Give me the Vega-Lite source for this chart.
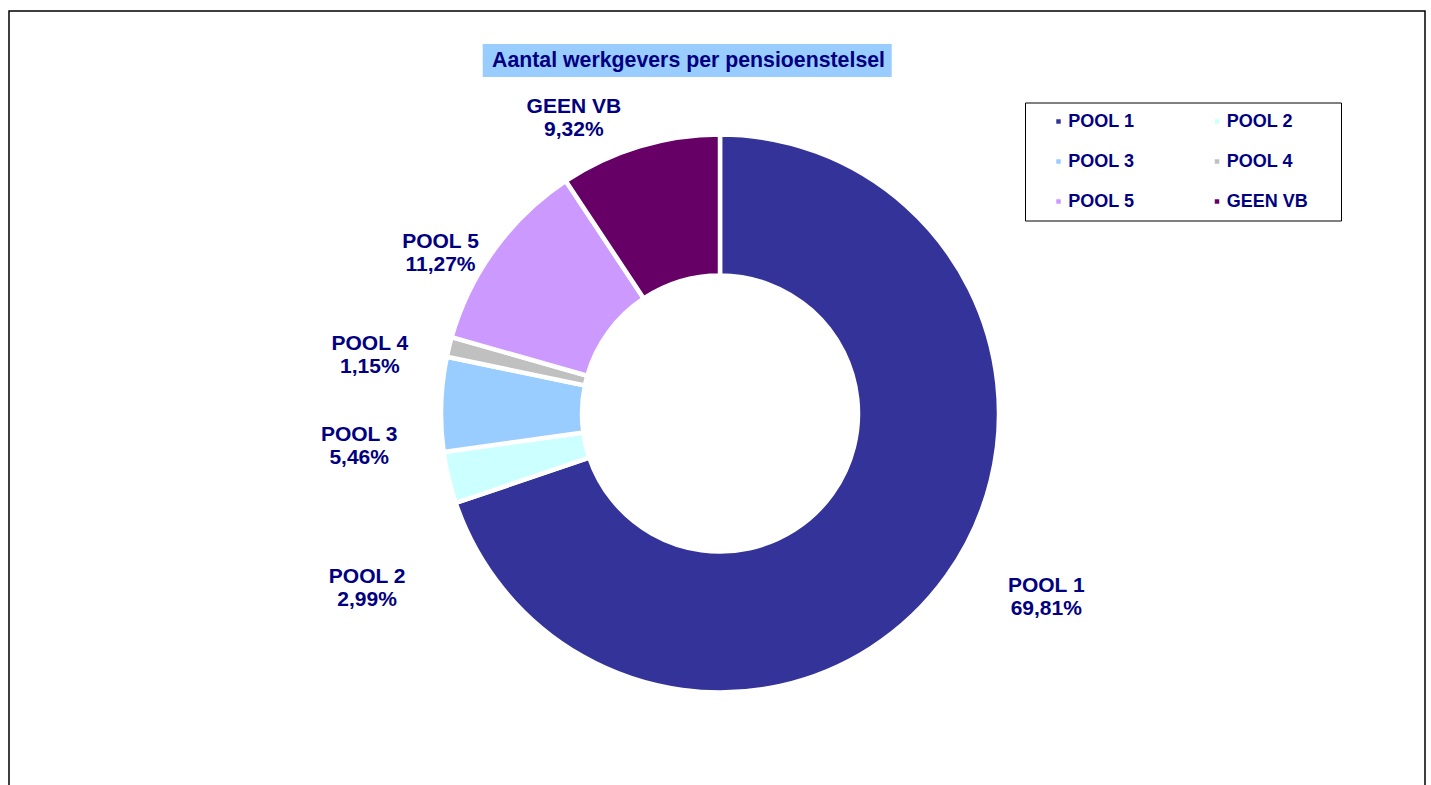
{
  "$schema": "https://vega.github.io/schema/vega-lite/v6.json",
  "width": 1416,
  "height": 778,
  "autosize": "none",
  "padding": {"left": 9, "top": 11, "right": 6, "bottom": -4},
  "background": "white",
  "view": {"stroke": "#000000", "strokeWidth": 1.5, "fill": "white"},
  "config": {
    "view": {"stroke": "#000000", "strokeWidth": 1.5},
    "font": "Liberation Sans"
  },
  "data": {
    "values": [
      {"nr": 1, "pool": "POOL 1", "pct": 69.81},
      {"nr": 2, "pool": "POOL 2", "pct": 2.99},
      {"nr": 3, "pool": "POOL 3", "pct": 5.46},
      {"nr": 4, "pool": "POOL 4", "pct": 1.15},
      {"nr": 5, "pool": "POOL 5", "pct": 11.27},
      {"nr": 6, "pool": "GEEN VB", "pct": 9.32}
    ]
  },
  "layer": [
    {
      "mark": {"type": "arc", "outerRadius": 279, "innerRadius": 138, "stroke": "white", "strokeWidth": 4.5, "x": {"expr": "width/2+3"}, "y": {"expr": "height/2+13.5"}},
      "encoding": {
        "theta": {"field": "pct", "type": "quantitative", "stack": true},
        "order": {"field": "nr", "type": "quantitative"},
        "color": {
          "field": "pool", "type": "nominal",
          "scale": {"domain": ["POOL 1", "POOL 2", "POOL 3", "POOL 4", "POOL 5", "GEEN VB"], "range": ["#333399", "#CCFFFF", "#99CCFF", "#C0C0C0", "#CC99FF", "#660066"]},
          "legend": {
            "orient": "none", "legendX": 1016, "legendY": 91.5,
            "columns": 2, "direction": "horizontal",
            "title": "\u2003", "titleOrient": "right", "titleFontSize": 14, "titlePadding": 23,
            "fillColor": "white", "strokeColor": "#000000",
            "padding": 10, "rowPadding": 22, "columnPadding": 58.5,
            "symbolType": "square", "symbolSize": 20, "symbolStrokeWidth": 0, "symbolOffset": 14.5,
            "labelOffset": 0.8, "labelFont": "Liberation Sans", "labelFontSize": 18, "labelFontWeight": "bold", "labelColor": "#000080", "labelLimit": 0
          }
        }
      }
    },
    {
      "transform": [{"calculate": "datum.pool + '\\n' + replace(format(datum.pct, '.2f'), '.', ',') + '%'", "as": "lbl"}],
      "mark": {"type": "text", "radius": 340, "x": {"expr": "width/2+3"}, "y": {"expr": "height/2+13.5"}, "dx": 50, "dy": -26, "lineBreak": "\n", "lineHeight": 23, "align": "center", "baseline": "middle", "font": "Liberation Sans", "fontSize": 21, "fontWeight": "bold", "color": "#000080"},
      "encoding": {
        "theta": {"field": "pct", "type": "quantitative", "stack": true},
        "order": {"field": "nr", "type": "quantitative"},
        "detail": {"field": "pool"},
        "text": {"field": "lbl"},
        "opacity": {"condition": {"test": "datum.pool === 'POOL 1'", "value": 1}, "value": 0}
      }
    },
    {
      "transform": [{"calculate": "datum.pool + '\\n' + replace(format(datum.pct, '.2f'), '.', ',') + '%'", "as": "lbl"}],
      "mark": {"type": "text", "radius": 340, "x": {"expr": "width/2+3"}, "y": {"expr": "height/2+13.5"}, "dx": -22, "dy": 85, "lineBreak": "\n", "lineHeight": 23, "align": "center", "baseline": "middle", "font": "Liberation Sans", "fontSize": 21, "fontWeight": "bold", "color": "#000080"},
      "encoding": {
        "theta": {"field": "pct", "type": "quantitative", "stack": true},
        "order": {"field": "nr", "type": "quantitative"},
        "detail": {"field": "pool"},
        "text": {"field": "lbl"},
        "opacity": {"condition": {"test": "datum.pool === 'POOL 2'", "value": 1}, "value": 0}
      }
    },
    {
      "transform": [{"calculate": "datum.pool + '\\n' + replace(format(datum.pct, '.2f'), '.', ',') + '%'", "as": "lbl"}],
      "mark": {"type": "text", "radius": 340, "x": {"expr": "width/2+3"}, "y": {"expr": "height/2+13.5"}, "dx": -21, "dy": 33, "lineBreak": "\n", "lineHeight": 23, "align": "center", "baseline": "middle", "font": "Liberation Sans", "fontSize": 21, "fontWeight": "bold", "color": "#000080"},
      "encoding": {
        "theta": {"field": "pct", "type": "quantitative", "stack": true},
        "order": {"field": "nr", "type": "quantitative"},
        "detail": {"field": "pool"},
        "text": {"field": "lbl"},
        "opacity": {"condition": {"test": "datum.pool === 'POOL 3'", "value": 1}, "value": 0}
      }
    },
    {
      "transform": [{"calculate": "datum.pool + '\\n' + replace(format(datum.pct, '.2f'), '.', ',') + '%'", "as": "lbl"}],
      "mark": {"type": "text", "radius": 340, "x": {"expr": "width/2+3"}, "y": {"expr": "height/2+13.5"}, "dx": -20, "dy": 12, "lineBreak": "\n", "lineHeight": 23, "align": "center", "baseline": "middle", "font": "Liberation Sans", "fontSize": 21, "fontWeight": "bold", "color": "#000080"},
      "encoding": {
        "theta": {"field": "pct", "type": "quantitative", "stack": true},
        "order": {"field": "nr", "type": "quantitative"},
        "detail": {"field": "pool"},
        "text": {"field": "lbl"},
        "opacity": {"condition": {"test": "datum.pool === 'POOL 4'", "value": 1}, "value": 0}
      }
    },
    {
      "transform": [{"calculate": "datum.pool + '\\n' + replace(format(datum.pct, '.2f'), '.', ',') + '%'", "as": "lbl"}],
      "mark": {"type": "text", "radius": 340, "x": {"expr": "width/2+3"}, "y": {"expr": "height/2+13.5"}, "dx": -5, "dy": 29, "lineBreak": "\n", "lineHeight": 23, "align": "center", "baseline": "middle", "font": "Liberation Sans", "fontSize": 21, "fontWeight": "bold", "color": "#000080"},
      "encoding": {
        "theta": {"field": "pct", "type": "quantitative", "stack": true},
        "order": {"field": "nr", "type": "quantitative"},
        "detail": {"field": "pool"},
        "text": {"field": "lbl"},
        "opacity": {"condition": {"test": "datum.pool === 'POOL 5'", "value": 1}, "value": 0}
      }
    },
    {
      "transform": [{"calculate": "datum.pool + '\\n' + replace(format(datum.pct, '.2f'), '.', ',') + '%'", "as": "lbl"}],
      "mark": {"type": "text", "radius": 340, "x": {"expr": "width/2+3"}, "y": {"expr": "height/2+13.5"}, "dx": -48, "dy": 19, "lineBreak": "\n", "lineHeight": 23, "align": "center", "baseline": "middle", "font": "Liberation Sans", "fontSize": 21, "fontWeight": "bold", "color": "#000080"},
      "encoding": {
        "theta": {"field": "pct", "type": "quantitative", "stack": true},
        "order": {"field": "nr", "type": "quantitative"},
        "detail": {"field": "pool"},
        "text": {"field": "lbl"},
        "opacity": {"condition": {"test": "datum.pool === 'GEEN VB'", "value": 1}, "value": 0}
      }
    },
    {
      "data": {"values": [{"titel": "Aantal werkgevers per pensioenstelsel"}]},
      "mark": {"type": "point", "opacity": 0, "size": 0},
      "encoding": {
        "shape": {
          "field": "titel", "type": "nominal",
          "legend": {
            "orient": "none", "legendX": 473.7, "legendY": 33, "title": null,
            "fillColor": "#99CCFF", "padding": 6,
            "symbolSize": 0, "symbolOpacity": 0, "symbolStrokeWidth": 0, "labelOffset": -18,
            "labelFont": "Liberation Sans", "labelFontSize": 21.3, "labelFontWeight": "bold", "labelColor": "#000080", "labelLimit": 0
          }
        }
      }
    }
  ]
}
